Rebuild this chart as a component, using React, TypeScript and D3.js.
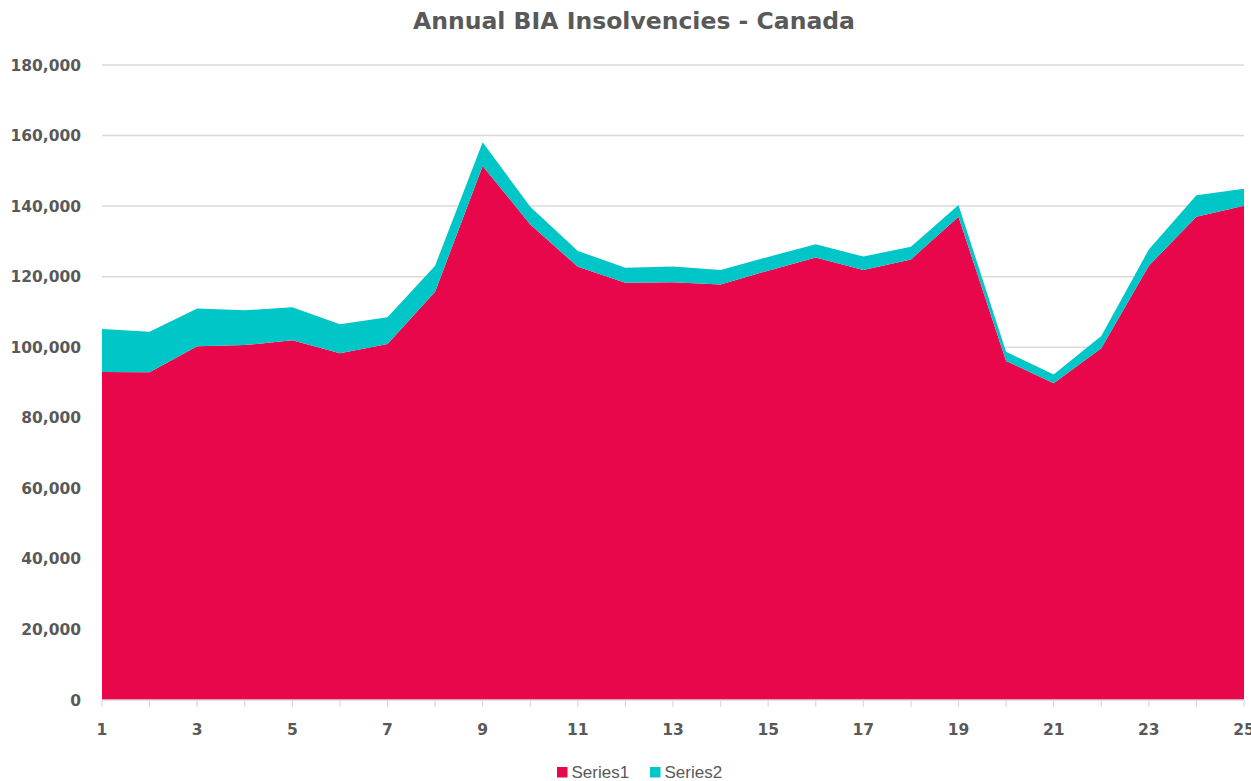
import React from "react";
import * as d3 from "d3";

// Annual BIA insolvencies, stacked by series
const periods: number[] = Array.from({ length: 25 }, (_, i) => i + 1);
const series1: number[] = [
  93000, 92900, 100300, 100600, 102000, 98300, 100900, 115700, 151400, 134800,
  122800, 118300, 118400, 117800, 121700, 125400, 121900, 124900, 137000, 96100,
  89800, 99700, 123100, 137000, 140100,
];
const series2: number[] = [
  12200, 11500, 10700, 9900, 9300, 8200, 7600, 7400, 6700, 5000,
  4500, 4200, 4500, 4100, 3900, 3800, 3800, 3600, 3300, 2600,
  2500, 3500, 4600, 6100, 4800,
];
const yTicks: number[] = [0, 20000, 40000, 60000, 80000, 100000, 120000, 140000, 160000, 180000];
const xLabels: number[] = [1, 3, 5, 7, 9, 11, 13, 15, 17, 19, 21, 23, 25];
const seriesNames: string[] = ["Series1", "Series2"];
const seriesColors: string[] = ["#E8074B", "#00C6C7"];

const W = 1251;
const H = 781;
const M = { left: 102, right: 1244, top: 65, bottom: 700 };
const AXIS_FONT = "'DejaVu Sans', sans-serif";
const LEGEND_FONT = "'Liberation Sans', Arial, sans-serif";
const TEXT = "#595959";

export default function App() {
  const x = d3.scaleLinear().domain([1, 25]).range([M.left, M.right]);
  const y = d3.scaleLinear().domain([0, 180000]).range([M.bottom, M.top]);

  const rows = periods.map((p, i) => ({ p, s1: series1[i], s2: series2[i] }));
  const stack = d3.stack<any>().keys(["s1", "s2"]);
  const layers = stack(rows);
  const area = d3
    .area<any>()
    .x((d) => x(d.data.p))
    .y0((d) => y(d[0]))
    .y1((d) => y(d[1]));

  const fmt = d3.format(",");

  return (
    <svg
      width={W}
      height={H}
      style={{ position: "absolute", left: 0, top: 0, background: "#fff" }}
    >
      <text
        x={634}
        y={29}
        textAnchor="middle"
        fontSize={23}
        fontWeight="bold"
        fill={TEXT}
        fontFamily={AXIS_FONT}
        textLength={442}
        lengthAdjust="spacingAndGlyphs"
      >
        Annual BIA Insolvencies - Canada
      </text>

      {yTicks.map((t) => (
        <g key={t}>
          {t > 0 && (
            <line x1={M.left} x2={M.right} y1={y(t)} y2={y(t)} stroke="#D9D9D9" strokeWidth={1.5} />
          )}
          <text
            x={81}
            y={y(t)}
            dy="0.36em"
            textAnchor="end"
            fontSize={15.5}
            fontWeight="bold"
            fill={TEXT}
            fontFamily={AXIS_FONT}
          >
            {fmt(t)}
          </text>
        </g>
      ))}

      {layers.map((layer, i) => (
        <path key={i} d={area(layer) || ""} fill={seriesColors[i]} />
      ))}

      <line x1={M.left} x2={M.right} y1={M.bottom} y2={M.bottom} stroke="#D9D9D9" strokeWidth={1.5} />
      {periods.map((p) => (
        <line key={p} x1={x(p)} x2={x(p)} y1={M.bottom} y2={M.bottom + 7} stroke="#D9D9D9" strokeWidth={1.2} />
      ))}
      {xLabels.map((p) => (
        <text
          key={p}
          x={x(p)}
          y={729}
          dy="0.36em"
          textAnchor="middle"
          fontSize={15.5}
          fontWeight="bold"
          fill={TEXT}
          fontFamily={AXIS_FONT}
        >
          {p}
        </text>
      ))}

      {seriesNames.map((n, i) => {
        const lx = i === 0 ? 557 : 650;
        return (
          <g key={n}>
            <rect x={lx} y={767} width={10.5} height={10.5} fill={seriesColors[i]} />
            <text
              x={lx + 14.5}
              y={771.5}
              dy="0.36em"
              fontSize={17}
              fill={TEXT}
              fontFamily={LEGEND_FONT}
            >
              {n}
            </text>
          </g>
        );
      })}
    </svg>
  );
}
